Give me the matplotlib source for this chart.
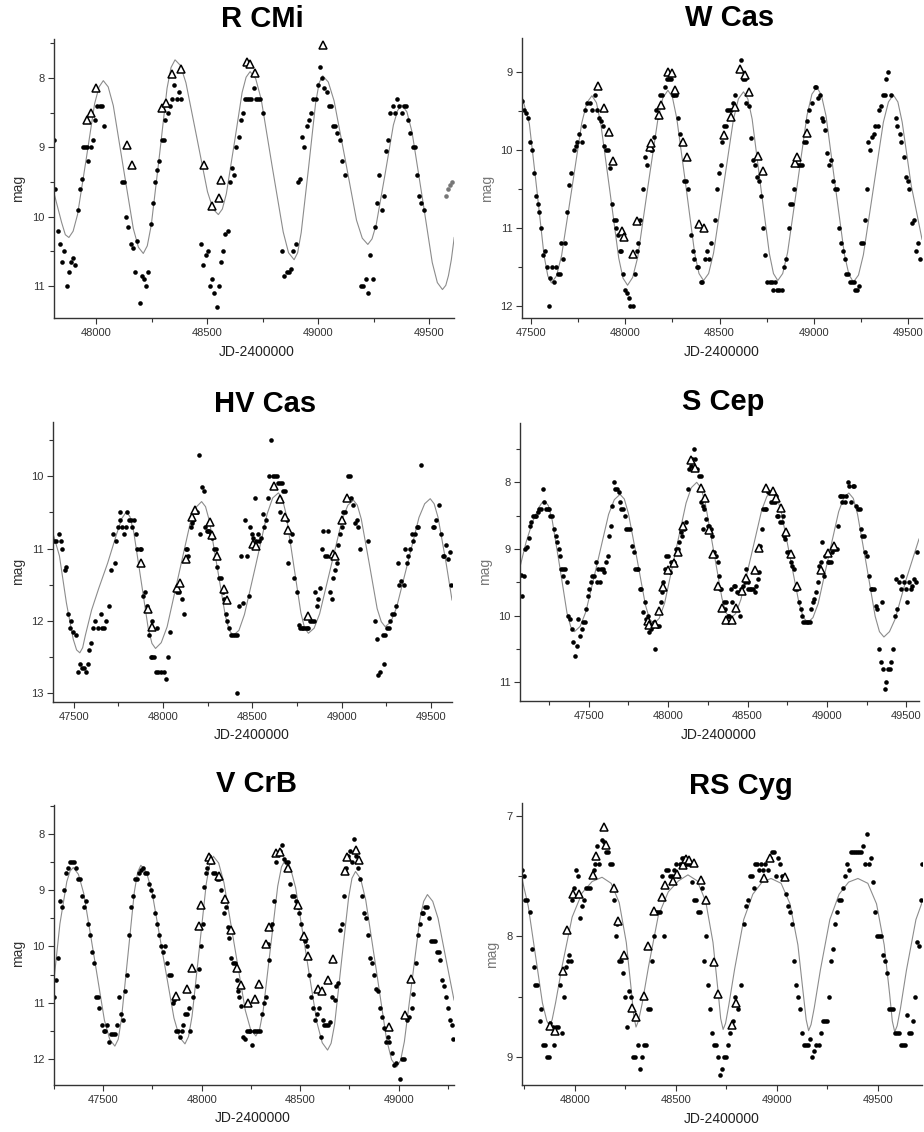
import matplotlib
matplotlib.use("Agg")
import matplotlib.pyplot as plt
from matplotlib.ticker import MultipleLocator

plt.rcParams['font.family'] = ['Liberation Sans', 'DejaVu Sans']

# ---------------- R CMi ----------------
rcmi_dot_x = [47812, 47815, 47827, 47838, 47847, 47857, 47868, 47877, 47887, 47898, 47907, 47917, 47926, 47937,
              47943, 47952, 47960, 47965, 47976, 47985, 47996, 48006, 48016, 48027, 48037,
              48117, 48126, 48135, 48146, 48156, 48167, 48176, 48186, 48197, 48206, 48216, 48225, 48236, 48246,
              48257, 48266, 48276, 48285, 48296, 48305, 48312, 48323, 48333, 48344, 48353, 48363, 48374, 48383,
              48473, 48483, 48494, 48505, 48514, 48524, 48533, 48544, 48553, 48563, 48574, 48583, 48593, 48604,
              48614, 48623, 48632, 48643, 48652, 48662, 48671, 48680, 48691, 48700, 48712, 48721, 48731, 48740, 48751,
              48839, 48848, 48859, 48869, 48880, 48889, 48899, 48910, 48919, 48929, 48938, 48949, 48959, 48968,
              48979, 48989, 48998, 49009, 49018, 49027, 49038, 49048, 49059, 49068, 49078, 49087, 49098, 49108, 49119,
              49195, 49204, 49216, 49225, 49234, 49246, 49256, 49267, 49276, 49287, 49296, 49306, 49315, 49324,
              49336, 49345, 49354, 49365, 49377, 49386, 49395, 49405, 49416, 49426, 49435, 49446, 49455, 49465, 49476]
rcmi_dot_y = [8.9, 9.6, 10.2, 10.4, 10.65, 10.5, 11.0, 10.8, 10.65, 10.6, 10.7, 9.9, 9.6, 9.45,
              9.0, 9.0, 9.0, 9.2, 9.0, 8.9, 8.6, 8.4, 8.4, 8.4, 8.7,
              9.5, 9.5, 10.0, 10.15, 10.4, 10.45, 10.8, 10.35, 11.25, 10.85, 10.9, 11.0, 10.8, 10.1,
              9.8, 9.5, 9.33, 9.2, 8.9, 8.9, 8.6, 8.5, 8.4, 8.3, 8.1, 8.3, 8.2, 8.3,
              10.4, 10.7, 10.55, 10.5, 11.0, 10.9, 11.1, 11.3, 11.0, 10.65, 10.5, 10.25, 10.2, 9.5,
              9.3, 9.4, 9.0, 8.85, 8.6, 8.5, 8.3, 8.3, 8.3, 8.3, 8.15, 8.3, 8.3, 8.3, 8.5,
              10.5, 10.85, 10.8, 10.8, 10.75, 10.5, 10.4, 9.5, 9.45, 8.85, 9.0, 8.7, 8.6, 8.5,
              8.3, 8.3, 8.1, 7.85, 8.0, 8.15, 8.2, 8.4, 8.4, 8.7, 8.7, 8.8, 8.9, 9.2, 9.4,
              11.0, 11.0, 10.9, 11.1, 10.55, 10.9, 10.15, 9.8, 9.4, 9.9, 9.7, 9.05, 8.9, 8.5,
              8.4, 8.5, 8.3, 8.4, 8.5, 8.4, 8.4, 8.6, 8.8, 9.0, 9.0, 9.4, 9.7, 9.8, 9.9]
rcmi_grey_x = [49575, 49586, 49596, 49605]
rcmi_grey_y = [9.7, 9.6, 9.55, 9.5]
rcmi_tri_x = [47958, 47979, 47998, 48138, 48161, 48296, 48315, 48344, 48384, 48485, 48524, 48554, 48563,
              48680, 48694, 48715, 49021]
rcmi_tri_y = [8.6, 8.5, 8.15, 8.97, 9.25, 8.44, 8.36, 7.94, 7.87, 9.25, 9.84, 9.73, 9.47,
              7.77, 7.80, 7.93, 7.52]
rcmi_fit_x = [47811, 47845, 47862, 47878,
              47897, 47917, 47956, 47994, 48014, 48033,
              48055, 48078, 48123, 48168, 48191, 48213,
              48231, 48249, 48285, 48320, 48338, 48356,
              48380, 48405, 48454, 48502, 48527, 48551,
              48569, 48587, 48623, 48658, 48676, 48694,
              48719, 48744, 48793, 48843, 48867, 48892,
              48908, 48924, 48957, 48989, 49005, 49021,
              49046, 49072, 49123, 49173, 49199, 49224,
              49243, 49262, 49301, 49339, 49358, 49377,
              49400, 49423, 49469, 49514, 49537, 49560,
              49575, 49587, 49600, 49613]
rcmi_fit_y = [9.66, 10.08, 10.26, 10.30,
              10.21, 9.97, 9.17, 8.37, 8.13, 8.04,
              8.13, 8.40, 9.29, 10.17, 10.44, 10.53,
              10.42, 10.12, 9.14, 8.15, 7.85, 7.74,
              7.82, 8.07, 8.86, 9.64, 9.89, 9.97,
              9.89, 9.67, 8.94, 8.21, 7.99, 7.91,
              8.01, 8.31, 9.27, 10.22, 10.52, 10.62,
              10.52, 10.23, 9.30, 8.36, 8.07, 7.97,
              8.06, 8.33, 9.19, 10.05, 10.31, 10.40,
              10.32, 10.11, 9.40, 8.68, 8.47, 8.39,
              8.49, 8.78, 9.72, 10.66, 10.95, 11.05,
              10.99, 10.85, 10.62, 10.30]

# ---------------- W Cas ----------------
wcas_dot_x = [47452, 47463, 47475, 47486, 47496, 47505, 47516, 47527, 47537, 47544, 47553, 47564, 47572, 47583,
              47594, 47601, 47611, 47622, 47631, 47641, 47652, 47661, 47671, 47682, 47693, 47703, 47714, 47726,
              47737, 47746, 47756, 47770, 47782, 47788, 47799, 47811, 47822, 47839, 47850, 47859, 47869, 47880,
              47889, 47900, 47908, 47917, 47928, 47938, 47949, 47949, 47959, 47970, 47979, 47988, 47998, 48007,
              48018, 48026, 48042, 48051, 48060, 48069, 48078, 48094, 48104, 48115, 48134, 48141, 48154, 48163,
              48173, 48184, 48196, 48210, 48221, 48233, 48244, 48253, 48261, 48270, 48281, 48290, 48300, 48311,
              48321, 48330, 48346, 48357, 48367, 48378, 48388, 48399, 48409, 48422, 48432, 48443, 48455, 48476,
              48489, 48499, 48510, 48512, 48523, 48534, 48539, 48548, 48560, 48571, 48582, 48613, 48624, 48635,
              48642, 48658, 48669, 48680, 48689, 48701, 48708, 48718, 48729, 48739, 48754, 48765, 48777, 48786,
              48796, 48807, 48818, 48830, 48841, 48852, 48866, 48876, 48887, 48896, 48917, 48928, 48939, 48947,
              48958, 48966, 48977, 48991, 49004, 49014, 49021, 49032, 49042, 49051, 49060, 49072, 49083, 49092,
              49103, 49113, 49124, 49132, 49143, 49154, 49164, 49171, 49182, 49191, 49201, 49212, 49219, 49230,
              49240, 49251, 49260, 49270, 49281, 49290, 49300, 49307, 49318, 49327, 49339, 49348, 49358, 49368,
              49379, 49384, 49396, 49412, 49434, 49444, 49455, 49464, 49476, 49490, 49498, 49506, 49520, 49531,
              49541, 49552, 49562]
wcas_dot_y = [9.38, 9.49, 9.53, 9.6, 9.9, 10.0, 10.3, 10.6, 10.7, 10.8, 11.0, 11.35, 11.3, 11.5,
              12.0, 11.65, 11.5, 11.7, 11.5, 11.6, 11.6, 11.2, 11.4, 11.2, 10.8, 10.45, 10.3, 10.0,
              9.95, 9.9, 9.8, 9.9, 9.7, 9.49, 9.4, 9.4, 9.49, 9.3, 9.49, 9.6, 9.64, 9.7,
              9.95, 10.0, 10.0, 10.24, 10.7, 10.9, 10.9, 11.0, 11.1, 11.3, 11.3, 11.6, 11.8, 11.84,
              11.9, 12.0, 12.0, 11.6, 11.3, 11.2, 10.9, 10.5, 10.1, 10.2, 10.0, 10.0, 9.84, 9.49,
              9.58, 9.3, 9.3, 9.2, 9.1, 9.1, 9.1, 9.3, 9.3, 9.3, 9.6, 9.8, 9.9, 10.4,
              10.4, 10.5, 11.1, 11.3, 11.4, 11.5, 11.5, 11.7, 11.7, 11.4, 11.3, 11.4, 11.2, 10.9,
              10.5, 10.3, 10.2, 9.9, 9.7, 9.7, 9.49, 9.49, 9.49, 9.4, 9.3, 8.85, 9.1, 9.1,
              9.4, 9.44, 9.85, 10.14, 10.2, 10.35, 10.4, 10.6, 11.0, 11.35, 11.7, 11.7, 11.7, 11.8,
              11.7, 11.8, 11.8, 11.8, 11.5, 11.4, 11.0, 10.7, 10.7, 10.5, 10.2, 10.2, 10.2, 9.9,
              9.9, 9.64, 9.49, 9.4, 9.2, 9.2, 9.34, 9.3, 9.6, 9.64, 9.75, 10.05, 10.2, 10.14,
              10.4, 10.5, 10.5, 11.0, 11.2, 11.3, 11.4, 11.6, 11.6, 11.7, 11.7, 11.7, 11.8, 11.8,
              11.75, 11.2, 11.2, 10.9, 10.5, 9.9, 10.0, 9.84, 9.8, 9.7, 9.7, 9.49, 9.44, 9.3,
              9.3, 9.1, 9.0, 9.3, 9.6, 9.7, 9.8, 9.9, 10.1, 10.35, 10.4, 10.5, 10.94, 10.9,
              11.3, 11.2, 11.4]
wcas_tri_x = [47855, 47885, 47913, 47935, 47984, 47993, 48042, 48060, 48129, 48138, 48178, 48189, 48226, 48247,
              48265, 48306, 48327, 48392, 48420, 48521, 48560, 48583, 48606, 48636, 48657, 48705, 48728, 48901,
              48913, 48963]
wcas_tri_y = [9.18, 9.47, 9.77, 10.15, 11.05, 11.12, 11.34, 10.91, 9.97, 9.92, 9.56, 9.43, 9.01, 9.02,
              9.24, 9.90, 10.10, 10.95, 11.00, 9.81, 9.58, 9.46, 8.97, 9.05, 9.26, 10.08, 10.28, 10.17,
              10.10, 9.79]
wcas_fit_x = [47452, 47491, 47530, 47569, 47589, 47608,
              47635, 47662, 47716, 47769, 47796, 47823,
              47847, 47870, 47918, 47965, 47988, 48012,
              48039, 48066, 48119, 48173, 48199, 48226,
              48250, 48273, 48321, 48368, 48391, 48415,
              48442, 48468, 48521, 48574, 48600, 48627,
              48650, 48673, 48718, 48764, 48786, 48809,
              48835, 48861, 48913, 48964, 48990, 49016,
              49040, 49065, 49113, 49162, 49186, 49210,
              49237, 49263, 49316, 49369, 49396, 49422,
              49446, 49469, 49516, 49574]
wcas_fit_y = [9.32, 9.67, 10.50, 11.36, 11.62, 11.71,
              11.62, 11.36, 10.51, 9.66, 9.40, 9.31,
              9.40, 9.67, 10.53, 11.39, 11.65, 11.74,
              11.64, 11.38, 10.49, 9.61, 9.34, 9.24,
              9.33, 9.60, 10.46, 11.33, 11.59, 11.68,
              11.59, 11.33, 10.47, 9.61, 9.35, 9.26,
              9.35, 9.61, 10.47, 11.33, 11.59, 11.68,
              11.59, 11.32, 10.44, 9.56, 9.29, 9.20,
              9.30, 9.57, 10.45, 11.34, 11.60, 11.70,
              11.61, 11.35, 10.50, 9.65, 9.39, 9.30,
              9.39, 9.65, 10.45, 11.15]

# ---------------- HV Cas ----------------
hvcas_dot_x = [47390, 47403, 47416, 47427, 47436, 47450, 47459, 47468, 47481, 47487, 47498, 47511, 47526, 47537,
               47547, 47558, 47567, 47578, 47586, 47597, 47608, 47620, 47635, 47650, 47661, 47672, 47683, 47698,
               47711, 47721, 47730, 47739, 47750, 47760, 47761, 47772, 47780, 47790, 47801, 47810, 47821, 47829,
               47840, 47848, 47857, 47870, 47879, 47889, 47900, 47913, 47922, 47930, 47939, 47941, 47950, 47958,
               47969, 47973, 47986, 48008, 48016, 48029, 48038, 48076, 48087, 48109, 48119, 48126, 48136, 48141,
               48154, 48162, 48169, 48179, 48188, 48199, 48207, 48218, 48229, 48235, 48244, 48251, 48259, 48268,
               48277, 48287, 48296, 48305, 48315, 48324, 48334, 48343, 48352, 48360, 48367, 48379, 48390, 48401,
               48412, 48416, 48427, 48435, 48446, 48458, 48469, 48480, 48487, 48496, 48506, 48513, 48521, 48530,
               48539, 48549, 48558, 48566, 48575, 48586, 48595, 48607, 48616, 48625, 48636, 48646, 48655, 48665,
               48655, 48674, 48683, 48692, 48702, 48713, 48724, 48736, 48749, 48760, 48767, 48777, 48786, 48795,
               48805, 48814, 48823, 48833, 48848, 48851, 48860, 48870, 48879, 48888, 48897, 48907, 48916, 48925,
               48935, 48944, 48954, 48963, 48973, 48982, 48991, 49001, 49010, 49020, 49029, 49038, 49048, 49053,
               49063, 49076, 49085, 49094, 49104, 49150, 49188, 49197, 49203, 49216, 49229, 49235, 49244, 49253,
               49264, 49272, 49283, 49294, 49302, 49313, 49324, 49334, 49347, 49356, 49365, 49373, 49382, 49392,
               49401, 49410, 49420, 49429, 49444, 49509, 49519, 49530, 49545, 49556, 49566, 49575, 49586, 49597,
               49607, 49613]
hvcas_dot_y = [10.9, 10.9, 10.8, 10.9, 11.0, 11.3, 11.25, 11.9, 12.1, 12.0, 12.15, 12.2, 12.7, 12.6,
               12.65, 12.65, 12.7, 12.6, 12.4, 12.3, 12.1, 12.0, 12.1, 11.9, 12.1, 12.1, 12.0, 11.8,
               11.3, 10.8, 11.2, 10.9, 10.7, 10.6, 10.5, 10.7, 10.8, 10.7, 10.5, 10.6, 10.6, 10.7,
               10.6, 10.8, 11.0, 11.0, 11.0, 11.65, 11.6, 11.8, 12.2, 12.5, 12.0, 12.5, 12.5, 12.7,
               12.1, 12.7, 12.7, 12.7, 12.8, 12.5, 12.15, 11.6, 11.6, 11.7, 11.9, 11.0, 11.0, 11.1,
               10.7, 10.65, 10.6, 10.5, 10.5, 9.7, 10.8, 10.15, 10.2, 10.7, 10.75, 10.75, 10.75, 10.8,
               10.85, 11.0, 11.0, 11.25, 11.4, 11.4, 11.6, 11.7, 11.9, 12.0, 12.1, 12.2, 12.2, 12.2,
               12.2, 13.0, 11.8, 11.1, 11.75, 10.6, 11.1, 11.65, 10.7, 10.8, 10.85, 10.3, 10.9, 10.8,
               10.9, 10.85, 10.52, 10.7, 10.6, 10.3, 10.0, 9.5, 10.0, 10.0, 10.0, 10.1, 10.1, 10.1,
               10.5, 10.2, 10.2, 10.6, 11.2, 10.9, 10.8, 11.4, 11.6, 12.05, 12.1, 12.1, 12.1, 12.1,
               12.1, 12.1, 12.0, 12.0, 12.0, 11.6, 11.8, 11.7, 11.55, 11.0, 10.75, 11.1, 11.1, 10.75,
               11.6, 11.7, 11.4, 11.3, 11.2, 10.95, 10.8, 10.7, 10.5, 10.5, 10.3, 10.0, 10.0, 10.3,
               10.4, 10.65, 10.6, 10.7, 11.0, 10.9, 12.0, 12.25, 12.75, 12.7, 12.2, 12.6, 12.2, 12.1,
               12.1, 12.0, 11.9, 11.9, 11.8, 11.2, 11.5, 11.45, 11.5, 11.0, 11.2, 11.1, 11.0, 10.8,
               10.9, 10.8, 10.7, 10.7, 9.85, 10.7, 10.7, 10.6, 10.4, 10.8, 11.1, 11.1, 10.95, 11.15,
               11.05, 11.5]
hvcas_tri_x = [47879, 47917, 47939, 48076, 48094, 48126, 48164, 48177, 48265, 48276, 48305, 48343, 48356,
               48502, 48521, 48623, 48655, 48683, 48702, 48814, 48954, 48965, 49001, 49029]
hvcas_tri_y = [11.20, 11.84, 12.08, 11.55, 11.48, 11.15, 10.56, 10.47, 10.63, 10.81, 11.10, 11.56, 11.71,
               10.93, 10.97, 10.14, 10.32, 10.56, 10.74, 11.93, 11.07, 11.10, 10.61, 10.30]
hvcas_fit_x = [47384, 47420, 47459, 47497, 47516, 47534,
               47550, 47565, 47600, 47640, 47690, 47740, 47770, 47795,
               47815, 47836, 47877, 47917, 47938, 47958,
               47990, 48023, 48087, 48152, 48184, 48216,
               48238, 48260, 48305, 48349, 48371, 48393,
               48425, 48456, 48520, 48583, 48614, 48646,
               48667, 48688, 48730, 48772, 48793, 48814,
               48846, 48877, 48940, 49003, 49035, 49066,
               49088, 49110, 49155, 49199, 49222, 49244,
               49276, 49307, 49370, 49433, 49465, 49496,
               49518, 49540, 49585, 49618]
hvcas_fit_y = [10.79, 11.10, 11.75, 12.25, 12.40, 12.44,
               12.37, 12.20, 11.85, 11.55, 11.20, 10.80, 10.58, 10.49,
               10.56, 10.77, 11.44, 12.10, 12.31, 12.38,
               12.30, 12.08, 11.37, 10.65, 10.43, 10.35,
               10.42, 10.62, 11.28, 11.93, 12.13, 12.20,
               12.13, 11.91, 11.22, 10.52, 10.30, 10.23,
               10.30, 10.51, 11.20, 11.89, 12.10, 12.17,
               12.10, 11.90, 11.25, 10.60, 10.40, 10.33,
               10.40, 10.59, 11.21, 11.83, 12.01, 12.08,
               12.01, 11.82, 11.20, 10.57, 10.38, 10.31,
               10.38, 10.57, 11.20, 11.71]

# ---------------- S Cep ----------------
scep_dot_x = [47072, 47080, 47090, 47101, 47111, 47122, 47130, 47139, 47149, 47160, 47168, 47179, 47185, 47198,
              47210, 47221, 47233, 47244, 47252, 47259, 47269, 47282, 47292, 47303, 47311, 47319, 47328, 47340,
              47353, 47340, 47363, 47370, 47380, 47395, 47403, 47414, 47426, 47433, 47447, 47458, 47466, 47475,
              47485, 47494, 47502, 47513, 47523, 47534, 47544, 47550, 47561, 47571, 47580, 47590, 47599, 47609,
              47620, 47628, 47637, 47647, 47662, 47668, 47679, 47689, 47697, 47706, 47716, 47727, 47737, 47748,
              47758, 47773, 47784, 47792, 47802, 47813, 47821, 47832, 47844, 47853, 47863, 47874, 47882, 47893,
              47903, 47912, 47920, 47931, 47941, 47954, 47960, 47970, 47979, 47989, 48000, 48010, 48021, 48029,
              48040, 48050, 48061, 48071, 48080, 48088, 48098, 48111, 48122, 48132, 48143, 48151, 48162, 48172,
              48183, 48193, 48204, 48210, 48218, 48229, 48239, 48250, 48260, 48268, 48222, 48279, 48290, 48300,
              48311, 48319, 48326, 48336, 48349, 48357, 48366, 48376, 48386, 48397, 48405, 48414, 48424, 48435,
              48445, 48453, 48462, 48472, 48481, 48491, 48500, 48504, 48515, 48525, 48533, 48544, 48554, 48565,
              48573, 48579, 48592, 48600, 48609, 48619, 48630, 48638, 48649, 48659, 48670, 48680, 48684, 48695,
              48705, 48714, 48722, 48731, 48739, 48750, 48760, 48771, 48781, 48792, 48802, 48813, 48823, 48834,
              48840, 48851, 48861, 48872, 48882, 48893, 48901, 48910, 48920, 48930, 48941, 48951, 48962, 48970,
              48980, 48991, 49004, 49012, 49023, 49033, 49044, 49054, 49062, 49071, 49081, 49090, 49100, 49096,
              49111, 49121, 49131, 49142, 49150, 49163, 49173, 49186, 49197, 49207, 49216, 49224, 49235, 49243,
              49254, 49262, 49275, 49286, 49296, 49307, 49317, 49328, 49338, 49345, 49353, 49366, 49374, 49385,
              49395, 49406, 49416, 49427, 49433, 49444, 49454, 49465, 49475, 49486, 49496, 49507, 49517, 49528,
              49538, 49549, 49559, 49570]
scep_dot_y = [9.39, 9.7, 9.4, 9.0, 8.97, 8.84, 8.65, 8.6, 8.5, 8.5, 8.5, 8.45, 8.4, 8.4,
              8.1, 8.3, 8.4, 8.4, 8.4, 8.5, 8.5, 8.7, 8.8, 8.9, 9.0, 9.1, 9.3, 9.3,
              9.3, 9.4, 9.5, 10.0, 10.05, 10.2, 10.4, 10.6, 10.45, 10.05, 10.3, 10.2, 10.1, 10.1,
              9.9, 9.7, 9.6, 9.5, 9.4, 9.4, 9.2, 9.5, 9.3, 9.5, 9.3, 9.3, 9.35, 9.2,
              9.1, 8.8, 8.65, 8.35, 8.0, 8.1, 8.1, 8.15, 8.3, 8.4, 8.4, 8.5, 8.7, 8.7,
              8.7, 8.95, 9.05, 9.3, 9.3, 9.3, 9.6, 9.6, 9.95, 9.8, 10.05, 10.0, 10.25, 10.2,
              10.15, 10.1, 10.5, 10.15, 10.15, 9.8, 9.65, 9.5, 9.3, 9.1, 9.1, 9.35, 9.2, 9.2,
              9.2, 9.0, 9.0, 8.9, 8.75, 8.8, 8.7, 8.6, 8.1, 7.8, 7.75, 7.65, 7.5, 7.65,
              7.8, 7.9, 7.9, 8.3, 8.35, 8.4, 8.55, 8.65, 8.65, 8.7, 8.7, 8.8, 9.05, 9.1,
              9.2, 9.4, 9.6, 9.6, 9.8, 9.9, 9.8, 10.0, 10.0, 9.6, 9.8, 9.55, 9.55, 9.65,
              9.65, 10.0, 9.6, 9.55, 9.5, 9.3, 9.5, 9.6, 9.6, 9.6, 9.6, 9.65, 9.55, 9.45,
              9.35, 8.95, 8.7, 8.4, 8.4, 8.4, 8.15, 8.15, 8.3, 8.3, 8.3, 8.2, 8.5, 8.5,
              8.6, 8.6, 8.5, 8.8, 8.85, 9.05, 9.05, 9.2, 9.25, 9.3, 9.6, 9.6, 9.8, 9.9,
              10.0, 10.1, 10.1, 10.1, 10.1, 10.1, 9.9, 9.8, 9.75, 9.65, 9.5, 9.25, 9.2, 8.9,
              9.4, 9.1, 9.2, 9.2, 9.2, 9.05, 9.0, 9.0, 9.0, 8.65, 8.2, 8.2, 8.2, 8.3,
              8.3, 8.2, 8.0, 8.05, 8.3, 8.05, 8.05, 8.35, 8.4, 8.4, 8.7, 8.8, 8.8, 9.05,
              9.1, 9.4, 9.6, 9.6, 9.6, 9.85, 9.9, 10.5, 10.7, 9.8, 10.8, 11.1, 11.0, 10.8,
              10.8, 10.7, 10.5, 10.0, 9.45, 9.9, 9.5, 9.6, 9.4, 9.5, 9.6, 9.8, 9.5, 9.6,
              9.55, 9.45, 9.5, 9.05]
scep_tri_x = [47872, 47878, 47920, 47945, 47970, 48000, 48038, 48063, 48092, 48147, 48172, 48210, 48231, 48260,
              48281, 48315, 48342, 48367, 48403, 48430, 48464, 48493, 48550, 48571, 48617, 48661, 48682, 48711,
              48743, 48774, 48810, 48965, 49007, 49043]
scep_tri_y = [10.08, 10.14, 10.12, 9.93, 9.57, 9.32, 9.21, 9.04, 8.66, 7.67, 7.78, 8.08, 8.24, 8.72,
              9.07, 9.56, 9.89, 10.07, 10.06, 9.89, 9.63, 9.44, 9.31, 8.98, 8.08, 8.13, 8.23, 8.39,
              8.74, 9.07, 9.56, 9.32, 9.06, 8.95]
scep_fit_x = [47067, 47105, 47145, 47185, 47204, 47223,
              47246, 47270, 47317, 47363, 47387, 47410,
              47446, 47482, 47554, 47625, 47661, 47697,
              47724, 47750, 47804, 47857, 47883, 47910,
              47944, 47978, 48045, 48113, 48146, 48180,
              48206, 48233, 48286, 48339, 48366, 48392,
              48425, 48458, 48524, 48589, 48622, 48655,
              48683, 48711, 48768, 48824, 48852, 48880,
              48912, 48945, 49009, 49074, 49106, 49138,
              49166, 49193, 49249, 49304, 49331, 49359,
              49394, 49430, 49500, 49580]
scep_fit_y = [9.27, 8.90, 8.60, 8.38, 8.31, 8.28,
              8.35, 8.57, 9.26, 9.96, 10.17, 10.24,
              10.16, 9.94, 9.21, 8.48, 8.26, 8.18,
              8.25, 8.47, 9.15, 9.84, 10.05, 10.12,
              10.04, 9.81, 9.06, 8.31, 8.08, 8.00,
              8.08, 8.30, 9.02, 9.74, 9.96, 10.04,
              9.97, 9.76, 9.09, 8.42, 8.21, 8.14,
              8.21, 8.43, 9.12, 9.81, 10.03, 10.10,
              10.03, 9.82, 9.13, 8.44, 8.23, 8.16,
              8.24, 8.48, 9.24, 10.01, 10.24, 10.32,
              10.24, 10.05, 9.45, 8.85]

# ---------------- V CrB ----------------
vcrb_dot_x = [47251, 47260, 47271, 47280, 47290, 47300, 47310, 47321, 47331, 47341, 47351, 47361, 47371, 47381,
              47390, 47400, 47410, 47422, 47431, 47441, 47451, 47463, 47473, 47481, 47492, 47502, 47510, 47519,
              47529, 47539, 47551, 47561, 47569, 47580, 47590, 47602, 47610, 47622, 47632, 47642, 47652, 47663,
              47673, 47683, 47693, 47703, 47713, 47723, 47734, 47745, 47754, 47764, 47774, 47784, 47795, 47805,
              47815, 47825, 47835, 47845, 47854, 47859, 47869, 47879, 47889, 47899, 47906, 47916, 47925, 47933,
              47942, 47957, 47974, 47984, 47994, 48005, 48013, 48022, 48028, 48038, 48047, 48059, 48069, 48079,
              48089, 48099, 48110, 48115, 48123, 48132, 48140, 48150, 48157, 48167, 48177, 48184, 48191, 48199,
              48209, 48219, 48230, 48238, 48247, 48255, 48267, 48277, 48287, 48297, 48306, 48316, 48325, 48335,
              48343, 48345, 48355, 48367, 48375, 48385, 48397, 48406, 48416, 48426, 48438, 48448, 48458, 48468,
              48477, 48487, 48496, 48506, 48514, 48524, 48533, 48545, 48555, 48563, 48574, 48584, 48595, 48604,
              48615, 48623, 48631, 48641, 48653, 48664, 48675, 48683, 48694, 48702, 48712, 48722, 48732, 48743,
              48753, 48765, 48775, 48785, 48795, 48805, 48815, 48826, 48836, 48846, 48856, 48865, 48875, 48885,
              48895, 48905, 48915, 48925, 48936, 48946, 48953, 48966, 48976, 48986, 49007, 49017, 49027, 49041,
              49054, 49068, 49075, 49088, 49100, 49108, 49119, 49125, 49136, 49146, 49156, 49166, 49175, 49185,
              49193, 49203, 49212, 49222, 49229, 49239, 49249, 49259, 49270, 49275]
vcrb_dot_y = [10.9, 10.6, 10.2, 9.19, 9.3, 9.0, 8.7, 8.6, 8.5, 8.5, 8.5, 8.6, 8.8, 8.8,
              9.1, 9.3, 9.2, 9.6, 9.8, 10.1, 10.3, 10.9, 10.9, 11.1, 11.4, 11.5, 11.5, 11.4,
              11.7, 11.55, 11.55, 11.55, 11.4, 10.9, 11.2, 11.3, 10.8, 10.5, 9.8, 9.3, 9.1, 8.8,
              8.8, 8.7, 8.65, 8.6, 8.7, 8.7, 8.9, 9.0, 9.1, 9.4, 9.6, 9.8, 10.0, 10.1,
              10.0, 10.3, 10.5, 10.5, 11.0, 10.95, 11.5, 11.5, 11.6, 11.5, 11.4, 11.2, 11.2, 11.1,
              11.5, 10.9, 10.7, 10.4, 10.0, 9.6, 8.95, 8.7, 8.6, 8.4, 8.5, 8.7, 8.7, 8.8,
              8.8, 9.0, 9.2, 9.4, 9.3, 9.65, 9.85, 10.2, 10.3, 10.3, 10.6, 10.8, 10.9, 11.05,
              11.6, 11.65, 11.5, 11.5, 11.5, 11.75, 11.5, 11.5, 11.5, 11.5, 11.2, 11.0, 10.9, 9.95,
              10.25, 9.65, 9.6, 9.2, 8.5, 8.35, 8.3, 8.2, 8.45, 8.5, 8.5, 8.9, 9.1, 9.1,
              9.2, 9.3, 9.4, 9.6, 9.85, 9.9, 10.0, 10.5, 10.9, 11.1, 11.3, 11.2, 11.1, 11.6,
              11.3, 11.4, 11.4, 11.4, 11.35, 10.9, 10.95, 10.7, 10.65, 9.7, 9.6, 9.1, 8.6, 8.4,
              8.3, 8.5, 8.1, 8.4, 8.6, 8.8, 9.1, 9.4, 9.5, 9.8, 10.2, 10.3, 10.5, 10.75,
              10.8, 11.1, 11.25, 11.45, 11.7, 11.6, 11.7, 11.9, 12.1, 12.07, 12.35, 12.0, 12.0, 11.3,
              11.25, 11.1, 10.85, 10.3, 9.8, 9.6, 9.4, 9.4, 9.3, 9.3, 9.5, 9.9, 9.9, 9.9,
              10.1, 10.1, 10.25, 10.6, 10.7, 10.9, 11.1, 11.3, 11.4, 11.65]
vcrb_tri_x = [47867, 47927, 47949, 47988, 47996, 48038, 48047, 48087, 48118, 48147, 48177, 48199, 48236, 48270,
              48289, 48326, 48340, 48377, 48397, 48438, 48487, 48519, 48541, 48591, 48609, 48640, 48668, 48727,
              48739, 48782, 48798, 48951, 49032, 49065]
vcrb_tri_y = [10.88, 10.75, 10.39, 9.64, 9.27, 8.42, 8.46, 8.75, 9.16, 9.70, 10.39, 10.69, 11.01, 10.94,
              10.67, 9.96, 9.65, 8.35, 8.32, 8.60, 9.27, 9.82, 10.17, 10.76, 10.80, 10.60, 10.23, 8.67,
              8.41, 8.28, 8.47, 11.43, 11.21, 10.58]
vcrb_fit_x = [47246, 47280, 47315, 47332, 47348,
              47374, 47401, 47454, 47506, 47533, 47559,
              47576, 47592, 47625, 47658, 47675, 47691,
              47719, 47747, 47803, 47859, 47887, 47915,
              47933, 47951, 47987, 48023, 48041, 48059,
              48086, 48113, 48167, 48221, 48248, 48275,
              48294, 48312, 48349, 48386, 48405, 48423,
              48450, 48477, 48531, 48585, 48612, 48639,
              48657, 48675, 48710, 48746, 48763, 48781,
              48807, 48833, 48886, 48938, 48964, 48990,
              49010, 49029, 49068, 49107, 49127, 49146,
              49173, 49200, 49250, 49281]
vcrb_fit_y = [10.72, 9.60, 8.85, 8.66, 8.60,
              8.72, 9.06, 10.19, 11.31, 11.65, 11.77,
              11.65, 11.30, 10.17, 9.03, 8.68, 8.56,
              8.68, 9.02, 10.15, 11.27, 11.61, 11.73,
              11.60, 11.24, 10.07, 8.89, 8.53, 8.40,
              8.52, 8.87, 10.00, 11.13, 11.47, 11.59,
              11.47, 11.14, 10.03, 8.93, 8.59, 8.47,
              8.60, 8.96, 10.16, 11.35, 11.71, 11.84,
              11.72, 11.38, 10.26, 9.13, 8.79, 8.67,
              8.80, 9.18, 10.41, 11.64, 12.01, 12.14,
              12.02, 11.69, 10.61, 9.53, 9.20, 9.08,
              9.20, 9.50, 10.40, 10.95]

# ---------------- RS Cyg ----------------
rscyg_dot_x = [47740, 47748, 47756, 47766, 47777, 47787, 47796, 47805, 47815, 47827, 47835, 47845, 47855, 47865,
               47875, 47880, 47891, 47899, 47909, 47918, 47927, 47937, 47947, 47957, 47967, 47972, 47979, 47987,
               47997, 48005, 48016, 48026, 48036, 48046, 48056, 48066, 48076, 48086, 48096, 48102, 48112, 48122,
               48135, 48145, 48155, 48165, 48175, 48185, 48195, 48203, 48211, 48221, 48231, 48241, 48251, 48260,
               48270, 48280, 48290, 48300, 48312, 48321, 48331, 48341, 48353, 48363, 48373, 48382, 48392, 48402,
               48412, 48422, 48432, 48442, 48452, 48462, 48471, 48481, 48491, 48501, 48511, 48521, 48531, 48541,
               48551, 48561, 48570, 48580, 48590, 48600, 48610, 48620, 48630, 48640, 48649, 48659, 48669, 48679,
               48689, 48699, 48709, 48719, 48729, 48739, 48748, 48758, 48770, 48781, 48791, 48808, 48824, 48836,
               48847, 48857, 48867, 48877, 48887, 48893, 48903, 48912, 48922, 48933, 48943, 48956, 48966, 48976,
               48986, 48996, 49006, 49016, 49026, 49036, 49046, 49056, 49066, 49076, 49084, 49095, 49104, 49114,
               49124, 49136, 49144, 49154, 49166, 49174, 49185, 49195, 49207, 49217, 49227, 49237, 49246, 49256,
               49266, 49276, 49286, 49296, 49306, 49316, 49326, 49336, 49346, 49355, 49365, 49375, 49385, 49395,
               49405, 49414, 49428, 49438, 49448, 49457, 49467, 49477, 49487, 49495, 49503, 49513, 49523, 49533,
               49543, 49553, 49563, 49573, 49583, 49593, 49603, 49613, 49622, 49632, 49642, 49652, 49662, 49672,
               49682, 49692, 49702, 49712, 49718]
rscyg_dot_y = [7.45, 7.5, 7.7, 7.7, 7.8, 8.1, 8.25, 8.4, 8.4, 8.7, 8.6, 8.9, 8.9, 9.0,
               9.0, 8.72, 8.75, 8.9, 8.75, 8.75, 8.4, 8.8, 8.5, 8.25, 8.2, 8.15, 8.2, 7.7,
               7.6, 7.45, 7.5, 7.85, 7.75, 7.7, 7.6, 7.6, 7.6, 7.5, 7.45, 7.4, 7.25, 7.4,
               7.2, 7.22, 7.3, 7.3, 7.4, 7.4, 7.7, 8.0, 7.9, 8.2, 8.2, 8.3, 8.5, 8.75,
               8.45, 8.5, 9.0, 9.0, 8.9, 9.1, 9.0, 8.9, 8.9, 8.6, 8.6, 8.2, 8.0, 7.8,
               7.8, 7.8, 7.5, 8.0, 7.45, 7.45, 7.5, 7.5, 7.45, 7.4, 7.5, 7.4, 7.35, 7.35,
               7.4, 7.4, 7.4, 7.55, 7.7, 7.7, 7.8, 7.8, 7.6, 8.2, 8.0, 8.4, 8.6, 8.8,
               8.9, 8.9, 9.0, 9.15, 9.1, 9.0, 9.0, 8.9, 8.8, 8.7, 8.5, 8.6, 8.4, 7.9,
               7.75, 7.7, 7.5, 7.5, 7.6, 7.4, 7.4, 7.45, 7.4, 7.45, 7.4, 7.45, 7.35, 7.3,
               7.3, 7.5, 7.35, 7.4, 7.5, 7.5, 7.65, 7.75, 7.8, 7.9, 8.2, 8.4, 8.5, 8.6,
               8.8, 8.9, 8.9, 8.9, 8.85, 9.0, 8.95, 8.9, 8.9, 8.8, 8.7, 8.7, 8.7, 8.5,
               8.2, 8.1, 7.9, 7.8, 7.7, 7.7, 7.6, 7.5, 7.4, 7.45, 7.3, 7.3, 7.3, 7.3,
               7.3, 7.3, 7.25, 7.4, 7.15, 7.4, 7.35, 7.55, 7.8, 8.0, 8.0, 8.0, 8.15, 8.2,
               8.3, 8.6, 8.6, 8.6, 8.8, 8.8, 8.8, 8.9, 8.9, 8.9, 8.65, 8.8, 8.8, 8.7,
               8.5, 8.05, 8.08, 7.7, 7.4]
rscyg_tri_x = [47880, 47901, 47941, 47964, 47992, 48023, 48089, 48105, 48143, 48155, 48195, 48213, 48246, 48285,
               48305, 48345, 48363, 48394, 48434, 48447, 48486, 48506, 48536, 48551, 48564, 48589, 48626, 48648,
               48687, 48709, 48776, 48798, 48936, 48967, 49038]
rscyg_tri_y = [8.74, 8.78, 8.29, 7.95, 7.65, 7.65, 7.49, 7.33, 7.09, 7.24, 7.60, 7.87, 8.15, 8.59,
               8.67, 8.49, 8.08, 7.79, 7.67, 7.57, 7.54, 7.48, 7.41, 7.36, 7.37, 7.39, 7.53, 7.70,
               8.21, 8.48, 8.73, 8.55, 7.52, 7.35, 7.51]
rscyg_fit_x = [47740, 47770, 47805, 47840, 47862, 47875, 47888, 47905, 47937, 47987, 48036, 48086, 48135,
               48180, 48220, 48255, 48280, 48292, 48303, 48315, 48333, 48365, 48413, 48463, 48513, 48560,
               48606, 48648, 48684, 48710, 48722, 48734, 48746, 48762, 48791, 48836, 48881, 48927, 48971,
               49021, 49065, 49104, 49131, 49145, 49157, 49169, 49185, 49215, 49262, 49308, 49355, 49401,
               49450, 49493, 49531, 49558, 49571, 49583, 49595, 49611, 49641, 49688, 49718]
rscyg_fit_y = [7.53, 7.75, 8.15, 8.55, 8.70, 8.74, 8.69, 8.55, 8.25, 7.84, 7.64, 7.545, 7.51,
               7.56, 7.72, 8.05, 8.45, 8.66, 8.75, 8.70, 8.56, 8.25, 7.83, 7.63, 7.54, 7.49,
               7.54, 7.71, 8.05, 8.47, 8.68, 8.77, 8.72, 8.57, 8.27, 7.86, 7.65, 7.55, 7.52,
               7.56, 7.73, 8.07, 8.48, 8.69, 8.78, 8.73, 8.59, 8.28, 7.86, 7.65, 7.55, 7.52,
               7.56, 7.73, 8.07, 8.48, 8.70, 8.79, 8.74, 8.60, 8.28, 7.86, 7.72]

titles = ["R CMi", "W Cas", "HV Cas", "S Cep", "V CrB", "RS Cyg"]

W, H = 924, 1132
fig = plt.figure(figsize=(W / 100, H / 100), dpi=100)

# layout in pixels: (left, top, right, bottom), xlim, ylim(bottom, top), title centre, ylabel centre, xlabel centre, mag colour
layout = [
    ((54, 39, 454, 318), (47811, 49612), (11.46, 7.44), (262, 19), (18, 188), (257, 352), '#333333'),
    ((522, 38, 922, 318), (47452, 49574), (12.16, 8.57), (730, 18), (487, 188), (722, 352), '#777777'),
    ((53, 422, 452, 702), (47384, 49618), (13.12, 9.25), (265, 404), (18, 571), (252, 735), '#333333'),
    ((520, 423, 919, 701), (47067, 49580), (11.28, 7.11), (723, 402), (485, 571), (719, 735), '#777777'),
    ((54, 805, 454, 1085), (47250, 49281), (12.46, 7.49), (257, 784), (18, 953), (253, 1118), '#333333'),
    ((522, 803, 922, 1085), (47739, 49718), (9.23, 6.895), (741, 786), (492, 954), (722, 1119), '#777777'),
]

series = [
    (rcmi_dot_x, rcmi_dot_y, rcmi_tri_x, rcmi_tri_y, rcmi_fit_x, rcmi_fit_y),
    (wcas_dot_x, wcas_dot_y, wcas_tri_x, wcas_tri_y, wcas_fit_x, wcas_fit_y),
    (hvcas_dot_x, hvcas_dot_y, hvcas_tri_x, hvcas_tri_y, hvcas_fit_x, hvcas_fit_y),
    (scep_dot_x, scep_dot_y, scep_tri_x, scep_tri_y, scep_fit_x, scep_fit_y),
    (vcrb_dot_x, vcrb_dot_y, vcrb_tri_x, vcrb_tri_y, vcrb_fit_x, vcrb_fit_y),
    (rscyg_dot_x, rscyg_dot_y, rscyg_tri_x, rscyg_tri_y, rscyg_fit_x, rscyg_fit_y),
]

for i, (lay, ser) in enumerate(zip(layout, series)):
    (l, t, r, b), xl, yl, tpos, ypos, xpos, magcol = lay
    ax = fig.add_axes([l / W, 1 - b / H, (r - l) / W, (b - t) / H])
    dx, dy, tx, ty, fx, fy = ser
    ax.plot(fx, fy, color='#8c8c8c', lw=0.8, zorder=1, solid_joinstyle='round')
    ax.plot(dx, dy, 'o', color='black', ms=3.3, mew=0, zorder=2)
    if i == 0:
        ax.plot(rcmi_grey_x, rcmi_grey_y, 'o', color='#777777', ms=3.3, mew=0, zorder=2)
    ax.plot(tx, ty, '^', mfc='white', mec='black', ms=5.5, mew=1.1, zorder=3)
    ax.set_xlim(*xl)
    ax.set_ylim(*yl)
    ax.xaxis.set_major_locator(MultipleLocator(500))
    ax.xaxis.set_minor_locator(MultipleLocator(250))
    ax.yaxis.set_major_locator(MultipleLocator(1))
    ax.yaxis.set_minor_locator(MultipleLocator(0.5))
    ax.tick_params(which='major', direction='out', length=4, width=0.8, labelsize=8,
                   colors='#333333', pad=3)
    ax.tick_params(which='minor', direction='out', length=3, width=0.8, colors='#333333')
    for s in ('top', 'right'):
        ax.spines[s].set_visible(False)
    for s in ('left', 'bottom'):
        ax.spines[s].set_linewidth(1.0)
        ax.spines[s].set_color('#333333')
    ax.patch.set_alpha(0)
    fig.text(tpos[0] / W, 1 - tpos[1] / H, titles[i], fontsize=21, fontweight='bold',
             ha='center', va='center')
    fig.text(ypos[0] / W, 1 - ypos[1] / H, 'mag', fontsize=10, rotation=90,
             ha='center', va='center', color=magcol)
    fig.text(xpos[0] / W, 1 - xpos[1] / H, 'JD-2400000', fontsize=10,
             ha='center', va='center', color='#222222')

fig.savefig('out.png', dpi=100)
